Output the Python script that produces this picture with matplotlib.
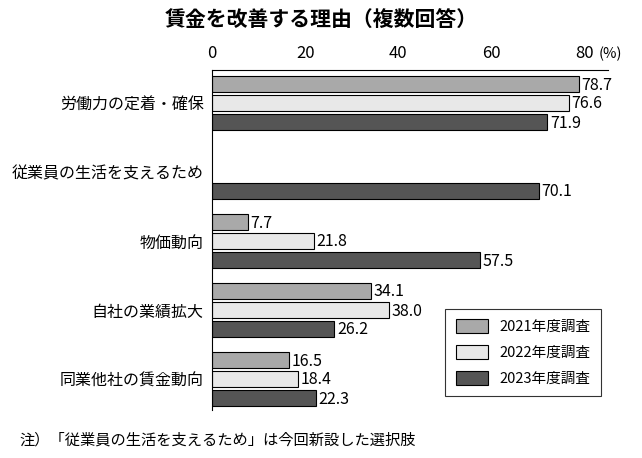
import matplotlib.pyplot as plt
import numpy as np
plt.rcParams['font.family'] = ['Noto Sans CJK JP', 'DejaVu Sans']

categories = ["労働力の定着・確保", "従業員の生活を支えるため", "物価動向", "自社の業績拡大", "同業他社の賃金動向"]
v2021 = [78.7, np.nan, 7.7, 34.1, 16.5]
v2022 = [76.6, np.nan, 21.8, 38.0, 18.4]
v2023 = [71.9, 70.1, 57.5, 26.2, 22.3]
series = ["2021年度調査", "2022年度調査", "2023年度調査"]
colors = ["#a9a9a9", "#e8e8e8", "#555555"]

fig = plt.figure(figsize=(6.42, 4.58), dpi=100)
ax = fig.add_axes([212/642, 48/458, 396/642, 340/458])
gap, step, h = 69, 19, 16.5
base = 14
for j, (vals, c, lab) in enumerate(zip([v2021, v2022, v2023], colors, series)):
    ys = [base + i*gap + j*step for i in range(len(categories))]
    ax.barh(ys, vals, height=h, color=c, edgecolor='black', linewidth=0.8, label=lab)
    for y, v in zip(ys, vals):
        if not np.isnan(v):
            ax.text(v + 0.6, y + 1, f"{v:.1f}", va='center', ha='left', fontsize=11.5)
ax.set_yticks([base + i*gap + step for i in range(len(categories))])
ax.set_yticklabels(categories, fontsize=11.5)
ax.set_ylim(340, 0)
ax.set_xlim(0, 85)
ax.set_xticks([0, 20, 40, 60, 80])
ax.set_xticklabels(["0", "20", "40", "60", "80"], fontsize=12)
ax.xaxis.tick_top()
ax.tick_params(axis='both', length=0, pad=6)
ax.text(85.5, -9, "(%)", ha='center', va='bottom', fontsize=10.5)
for s in ax.spines.values():
    s.set_linewidth(0.8)
ax.spines['right'].set_visible(False)
ax.spines['bottom'].set_visible(False)
leg = ax.legend(loc='lower right', bbox_to_anchor=(1.0, 0.02), fontsize=10.5, frameon=True, fancybox=False,
                edgecolor='black', handlelength=2.2, handleheight=1.1, labelspacing=0.75, borderpad=0.7)
leg.get_frame().set_linewidth(0.8)
fig.text(0.5, 0.955, "賃金を改善する理由（複数回答）", ha='center', va='center', fontsize=15, fontweight='bold')
fig.text(0.03, 0.04, "注）「従業員の生活を支えるため」は今回新設した選択肢", ha='left', va='center', fontsize=11)
fig.savefig("out.png", dpi=100)
